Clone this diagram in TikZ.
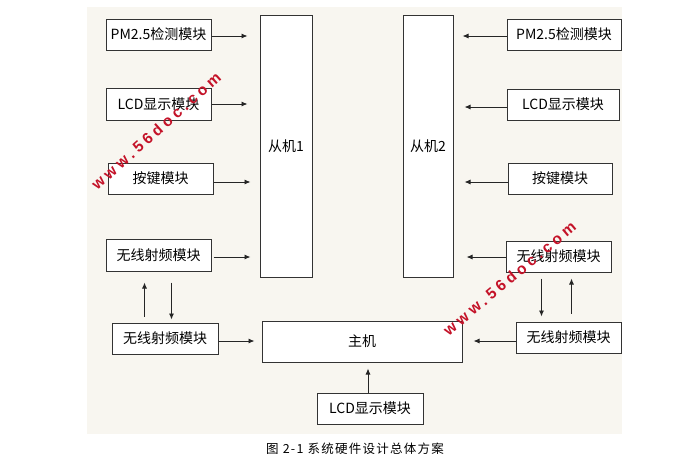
\documentclass[tikz,border=0pt]{standalone}
\usepackage{fontspec}
\setmainfont{Noto Sans CJK SC}
\newfontfamily\wmfont[LetterSpace=25]{Liberation Sans}
\newfontfamily\capfont[LetterSpace=10]{Noto Sans CJK SC}
\usetikzlibrary{arrows.meta,calc}
\definecolor{bgc}{RGB}{248,246,240}
\definecolor{wmred}{RGB}{196,18,40}
\tikzset{
  box/.style={draw=black!80, fill=white, line width=1pt, inner sep=0pt,
    font=\fontsize{14}{16}\selectfont},
  arr/.style={draw=black!85, line width=0.9pt, -{Latex[length=6pt,width=5pt]}},
  wm/.style={text=wmred, inner sep=0pt, font=\wmfont\bfseries\fontsize{15.5}{18}\selectfont},
}
\begin{document}
\begin{tikzpicture}[x=1pt,y=-1pt]
\useasboundingbox (0,0) rectangle (700,471);
\fill[white] (0,0) rectangle (700,471);
\fill[bgc] (87,7) rectangle (622,434);

% slaves and host
\node[box, minimum width=52pt, minimum height=262pt] (s1) at (286,146) {从机1};
\node[box, minimum width=50pt, minimum height=262pt] (s2) at (428,146) {从机2};
\node[box, minimum width=200pt, minimum height=41pt] (host) at (362,341.5) {主机};

% left column
\node[box, minimum width=105pt, minimum height=31pt] (lpm) at (158.5,34.5) {PM2.5检测模块};
\node[box, minimum width=105pt, minimum height=32pt] (llcd) at (158.5,104) {LCD显示模块};
\node[box, minimum width=105pt, minimum height=31pt] (lkey) at (160.5,178.5) {按键模块};
\node[box, minimum width=105pt, minimum height=32pt] (lrf1) at (158.5,255) {无线射频模块};
\node[box, minimum width=106pt, minimum height=31pt] (lrf2) at (165,338.5) {无线射频模块};

% right column
\node[box, minimum width=114pt, minimum height=31pt] (rpm) at (564,34.5) {PM2.5检测模块};
\node[box, minimum width=112pt, minimum height=31pt] (rlcd) at (563,104.5) {LCD显示模块};
\node[box, minimum width=104pt, minimum height=31pt] (rkey) at (560,178.5) {按键模块};
\node[box, minimum width=105pt, minimum height=31pt] (rrf1) at (558.5,256.5) {无线射频模块};
\node[box, minimum width=105pt, minimum height=31pt] (rrf2) at (568.5,337.5) {无线射频模块};

% bottom
\node[box, minimum width=106pt, minimum height=31pt] (blcd) at (370,408.5) {LCD显示模块};

% left arrows
\draw[arr] ($(lpm.east)+(0,1.5)$) -- ($(s1.west |- lpm.east)+(-12,1.5)$);
\draw[arr] (llcd.east) -- ($(s1.west |- llcd.east)+(-12,0)$);
\draw[arr] ($(lkey.east)+(0,3.5)$) -- ($(s1.west |- lkey.east)+(-9,3.5)$);
\draw[arr] ($(lrf1.east)+(2,2)$) -- ($(s1.west |- lrf1.east)+(-9,2)$);
% right arrows
\draw[arr] ($(rpm.west)+(0,1.5)$) -- ($(s2.east |- rpm.west)+(9,1.5)$);
\draw[arr] ($(rlcd.west)+(0,2.5)$) -- ($(s2.east |- rlcd.west)+(11,2.5)$);
\draw[arr] ($(rkey.west)+(0,3.5)$) -- ($(s2.east |- rkey.west)+(11,3.5)$);
\draw[arr] ($(rrf1.west)+(0,0.5)$) -- ($(s2.east |- rrf1.west)+(13,0.5)$);

% vertical RF links (left)
\draw[arr] ($(lrf2.north west)+(33,-6)$) -- ($(lrf1.south west)+(39,11)$);
\draw[arr] ($(lrf1.south west)+(66,11)$) -- ($(lrf2.north west)+(60,-3)$);
% vertical RF links (right)
\draw[arr] ($(rrf1.south west)+(36,6)$) -- ($(rrf2.north west)+(26,-5)$);
\draw[arr] ($(rrf2.north west)+(56,-8)$) -- ($(rrf1.south west)+(66,6)$);

% host links
\draw[arr] ($(lrf2.east)+(0,2.5)$) -- ($(host.west |- lrf2.east)+(-7,2.5)$);
\draw[arr] ($(rrf2.west)+(0,3.5)$) -- ($(host.east |- rrf2.west)+(11,3.5)$);
\draw[arr] ($(blcd.north)+(-2,0)$) -- ($(host.south)+(6,6)$);

% caption
\node[inner sep=0pt, font=\capfont\fontsize{12.5}{14}\selectfont] (cap) at (355,449) {图 2-1 系统硬件设计总体方案};

% watermarks
\node[wm, rotate=41.8] (wm1) at (156,131) {www.56doc.com};
\node[wm, rotate=39.9] (wm2) at (509.5,278.5) {www.56doc.com};
\end{tikzpicture}
\end{document}
